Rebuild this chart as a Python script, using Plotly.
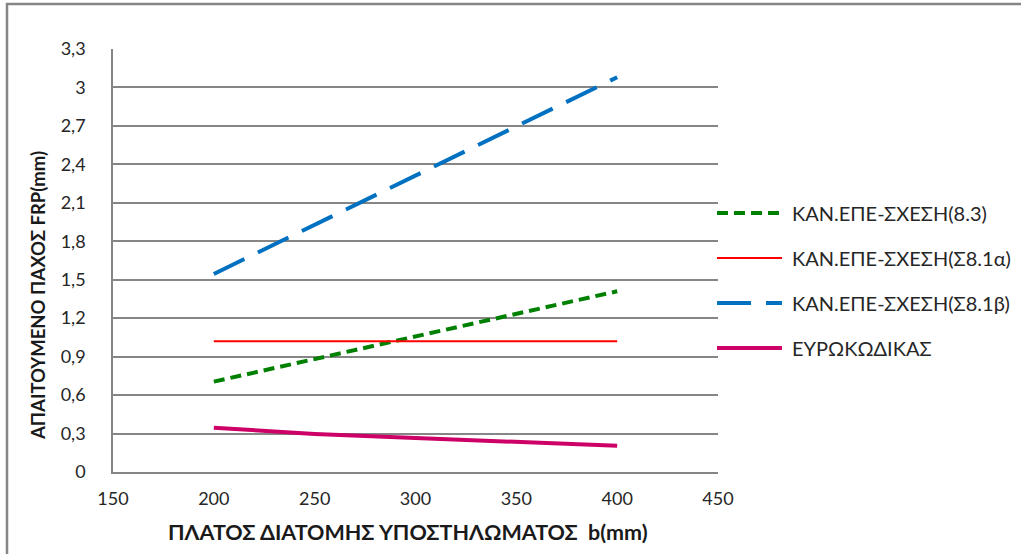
import plotly.graph_objects as go

# Column width b (mm)
b_mm = [200, 250, 300, 350, 400]

# Required FRP thickness (mm) per method
kan_epe_8_3 = [0.705, 0.88, 1.06, 1.235, 1.41]
kan_epe_s81a = [1.02, 1.02, 1.02, 1.02, 1.02]
kan_epe_s81b = [1.545, 1.93, 2.31, 2.695, 3.08]
eurocode = [0.345, 0.297, 0.265, 0.232, 0.205]

series_names = [
    "ΚΑΝ.ΕΠΕ-ΣΧΕΣΗ(8.3)",
    "ΚΑΝ.ΕΠΕ-ΣΧΕΣΗ(Σ8.1α)",
    "ΚΑΝ.ΕΠΕ-ΣΧΕΣΗ(Σ8.1β)",
    "ΕΥΡΩΚΩΔΙΚΑΣ",
]
series_values = [kan_epe_8_3, kan_epe_s81a, kan_epe_s81b, eurocode]

x_ticks = [150, 200, 250, 300, 350, 400, 450]
y_tick_vals = [0, 0.3, 0.6, 0.9, 1.2, 1.5, 1.8, 2.1, 2.4, 2.7, 3.0, 3.3]
y_tick_text = ["0", "0,3", "0,6", "0,9", "1,2", "1,5", "1,8", "2,1", "2,4", "2,7", "3", "3,3"]

styles = [
    dict(color="#008000", width=4, dash="11px,6px"),
    dict(color="#FF0000", width=2, dash="solid"),
    dict(color="#0070C0", width=4, dash="34px,15px"),
    dict(color="#CC0066", width=4, dash="solid"),
]

FONT = "Lato, Roboto, sans-serif"
GRID = "#868686"

W, H = 1021, 554
L, R, T, B = 113, 303, 49, 82
pw, ph = W - L - R, H - T - B


def px_x(px):
    return (px - L) / pw


def px_y(py):
    return (H - B - py) / ph


fig = go.Figure()
for name, vals, st in zip(series_names, series_values, styles):
    fig.add_trace(go.Scatter(x=b_mm, y=vals, name=name, mode="lines",
                             line=st, showlegend=False))

shapes = []
annotations = []

# Legend drawn as line samples with labels on the right of the plot
legend_y = [213, 258, 303, 348]
for name, st, ly in zip(series_names, styles, legend_y):
    shapes.append(dict(type="line", xref="paper", yref="paper",
                       x0=px_x(717), x1=px_x(782), y0=px_y(ly), y1=px_y(ly),
                       line=st))
    annotations.append(dict(text=name, xref="paper", yref="paper",
                            x=px_x(790), y=px_y(ly), xanchor="left", yanchor="middle",
                            showarrow=False,
                            font=dict(family=FONT, size=20, color="#262626")))

# Outer chart frame
shapes.append(dict(type="rect", xref="paper", yref="paper",
                   x0=px_x(7), x1=px_x(1030), y0=px_y(4), y1=px_y(570),
                   line=dict(color=GRID, width=2.5), layer="below"))

# Axis titles
annotations.append(dict(text="<b>ΠΛΑΤΟΣ ΔΙΑΤΟΜΗΣ ΥΠΟΣΤΗΛΩΜΑΤΟΣ&nbsp;&nbsp;b(mm)</b>",
                        xref="paper", yref="paper", x=px_x(408), y=px_y(532),
                        xanchor="center", yanchor="middle", showarrow=False,
                        font=dict(family=FONT, size=21.5, color="#1a1a1a")))
annotations.append(dict(text="<b>ΑΠΑΙΤΟΥΜΕΝΟ ΠΑΧΟΣ FRP(mm)</b>",
                        xref="paper", yref="paper", x=px_x(38), y=px_y(296),
                        xanchor="center", yanchor="middle", showarrow=False,
                        textangle=-90,
                        font=dict(family=FONT, size=18.5, color="#1a1a1a")))

fig.update_layout(
    width=W, height=H,
    margin=dict(l=L, r=R, t=T, b=B),
    paper_bgcolor="white", plot_bgcolor="white",
    shapes=shapes, annotations=annotations,
    showlegend=False,
)
fig.update_xaxes(range=[150, 450], tickvals=x_ticks, showgrid=False,
                 showline=True, linecolor=GRID, linewidth=1.5,
                 ticks="", ticklabelstandoff=10, zeroline=False,
                 tickfont=dict(family=FONT, size=18, color="#262626"))
fig.update_yaxes(range=[0, 3.3], tickvals=y_tick_vals, ticktext=y_tick_text,
                 showgrid=True, gridcolor=GRID, gridwidth=1.5,
                 showline=True, linecolor=GRID, linewidth=1.5,
                 ticks="", ticklabelstandoff=22, zeroline=False,
                 tickfont=dict(family=FONT, size=18, color="#262626"))

fig.write_html("out.html")
